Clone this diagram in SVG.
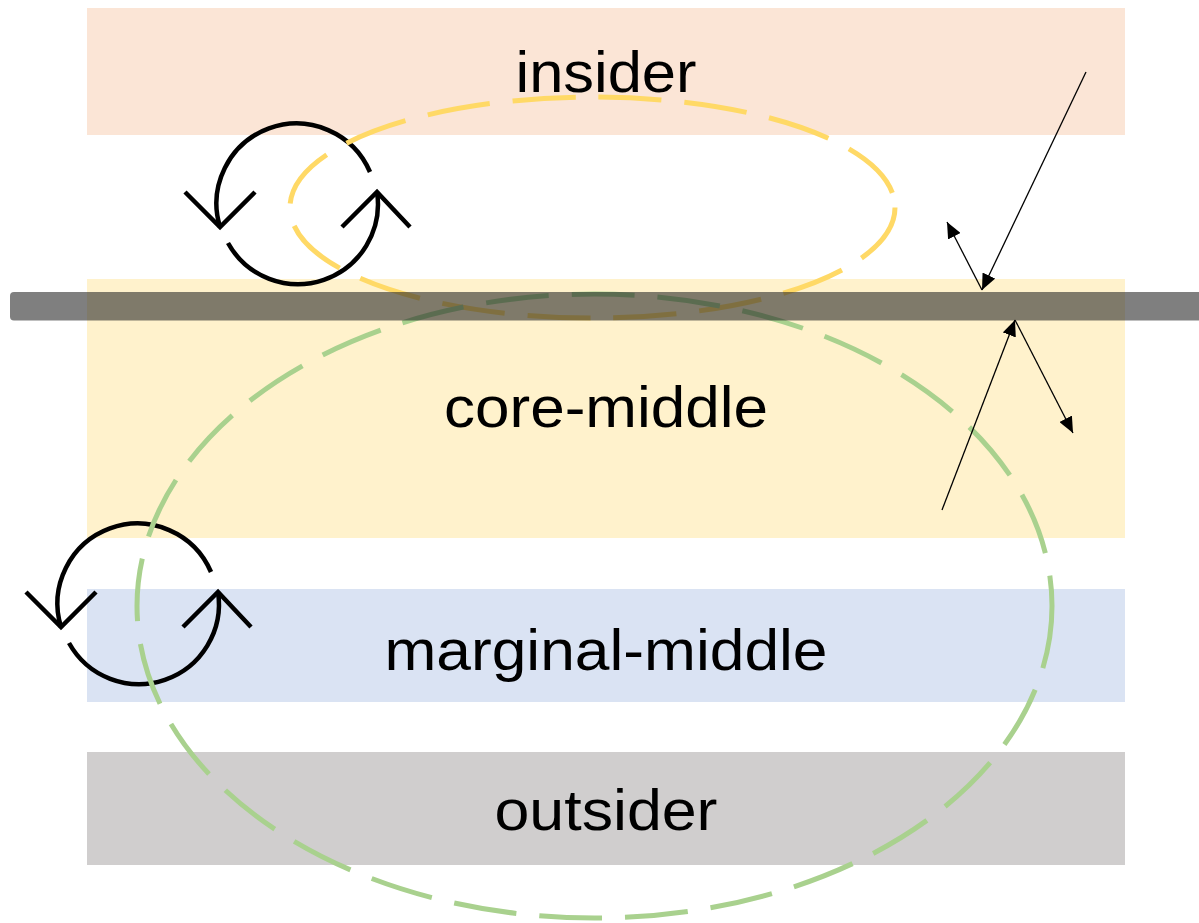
<svg xmlns="http://www.w3.org/2000/svg" width="1199" height="923" viewBox="0 0 1199 923">
<style>
.lbl{font-family:"Liberation Sans",Arial,sans-serif;font-size:57px;fill:#000;text-anchor:middle}
.cyc{fill:none;stroke:#000;stroke-width:4.5;stroke-linecap:butt;stroke-linejoin:miter}
.dash{fill:none;stroke-width:5;stroke-dasharray:63 23}
.arr{fill:none;stroke:#000;stroke-width:1.3}
</style>
<defs>
<marker id="ah" markerUnits="userSpaceOnUse" markerWidth="18" markerHeight="14" refX="16" refY="7" orient="auto">
<path d="M0,0 L16,7 L0,14 z" fill="#000"/>
</marker>
<g id="cycle">
<path class="cyc" d="M220,227 A80,80 0 0 1 370,172"/>
<path class="cyc" d="M377,192 A80,80 0 0 1 228,243"/>
<path class="cyc" d="M185,192 L220,227 L255,192"/>
<path class="cyc" d="M342,227 L377,192 L410,227"/>
</g>
</defs>
<rect width="1199" height="923" fill="#fff"/>
<g id="insider">
<rect x="87" y="8" width="1038" height="127" fill="#FBE5D6"/>
<text class="lbl" x="606" y="92" textLength="181" lengthAdjust="spacingAndGlyphs">insider</text>
</g>
<g id="core-middle">
<rect x="87" y="279" width="1038" height="259" fill="#FFF2CC"/>
<text class="lbl" x="606" y="427" textLength="324" lengthAdjust="spacingAndGlyphs">core-middle</text>
</g>
<g id="marginal-middle">
<rect x="87" y="589" width="1038" height="113" fill="#DAE3F3"/>
<text class="lbl" x="606" y="670" textLength="443" lengthAdjust="spacingAndGlyphs">marginal-middle</text>
</g>
<g id="outsider">
<rect x="87" y="752" width="1038" height="113" fill="#D0CECE"/>
<text class="lbl" x="606" y="830" textLength="223" lengthAdjust="spacingAndGlyphs">outsider</text>
</g>
<g id="cycle-top"><use href="#cycle"/></g>
<g id="cycle-bottom"><use href="#cycle" transform="translate(-159,400)"/></g>
<g id="loop-yellow"><ellipse class="dash" cx="592.5" cy="207.5" rx="302.5" ry="110.5" stroke="#FFD966"/></g>
<g id="loop-green"><ellipse class="dash" cx="594.5" cy="606" rx="457.5" ry="312" stroke="#A9D18E"/></g>
<g id="boundary"><rect x="10" y="292" width="1200" height="28.5" rx="4" fill="#262626" fill-opacity="0.59"/></g>
<g id="connectors">
<line class="arr" x1="1086" y1="72" x2="982" y2="290" marker-end="url(#ah)"/>
<line class="arr" x1="982" y1="290" x2="947" y2="222" marker-end="url(#ah)"/>
<line class="arr" x1="942" y1="510" x2="1015" y2="320" marker-end="url(#ah)"/>
<line class="arr" x1="1015" y1="320" x2="1073" y2="433" marker-end="url(#ah)"/>
</g>
</svg>
